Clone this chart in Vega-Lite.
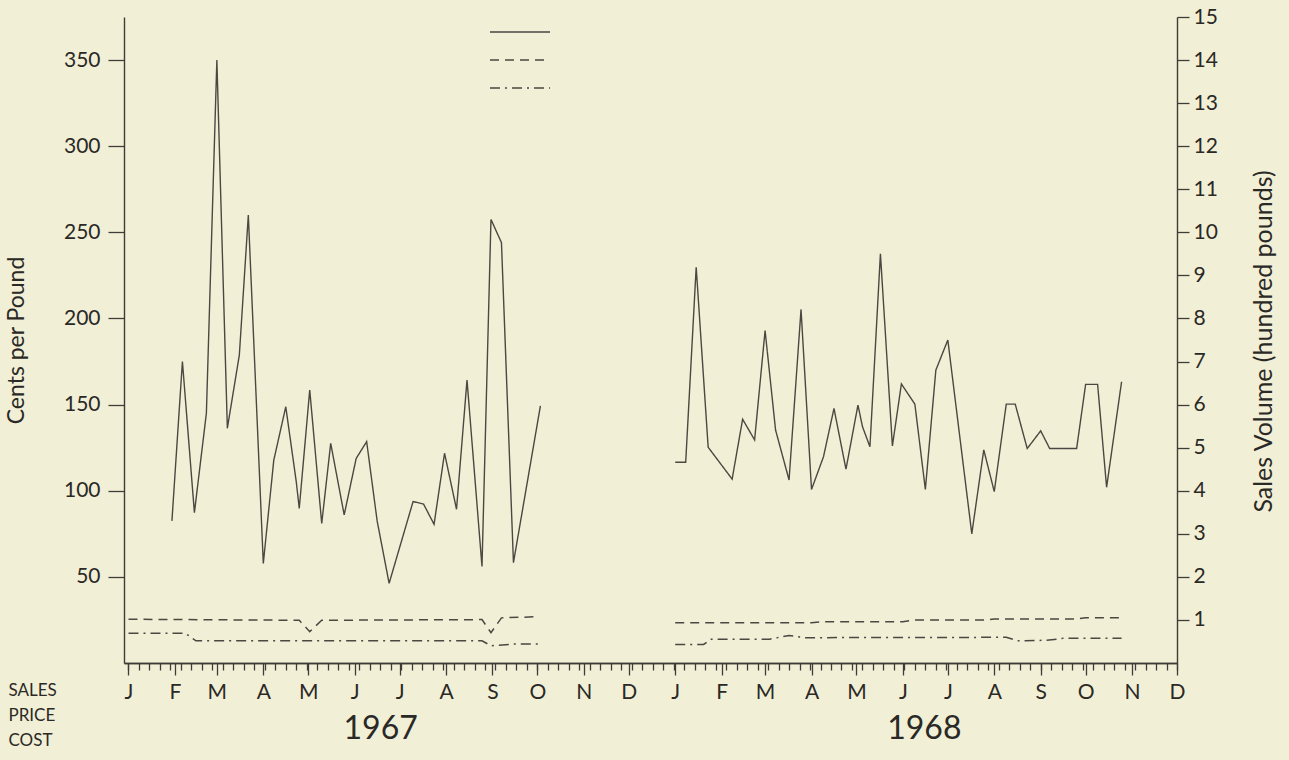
{
  "$schema": "https://vega.github.io/schema/vega-lite/v6.json",
  "autosize": {"type": "none"},
  "padding": {"left": 124, "top": 17, "right": 112, "bottom": 97},
  "width": 1053,
  "height": 646,
  "background": "#f2efd7",
  "datasets": {
    "sales": [
      {"week": "1967-01-30", "volume": 3.30},
      {"week": "1967-02-06", "volume": 7.00},
      {"week": "1967-02-14", "volume": 3.49},
      {"week": "1967-02-22", "volume": 5.80},
      {"week": "1967-03-01", "volume": 14.0},
      {"week": "1967-03-08", "volume": 5.45},
      {"week": "1967-03-16", "volume": 7.15},
      {"week": "1967-03-22", "volume": 10.4},
      {"week": "1967-04-01", "volume": 2.31},
      {"week": "1967-04-08", "volume": 4.71},
      {"week": "1967-04-16", "volume": 5.95},
      {"week": "1967-04-23", "volume": 4.21},
      {"week": "1967-04-25", "volume": 3.59},
      {"week": "1967-05-02", "volume": 6.34},
      {"week": "1967-05-10", "volume": 3.24},
      {"week": "1967-05-16", "volume": 5.10},
      {"week": "1967-05-25", "volume": 3.44},
      {"week": "1967-06-02", "volume": 4.75},
      {"week": "1967-06-09", "volume": 5.14},
      {"week": "1967-06-16", "volume": 3.30},
      {"week": "1967-06-24", "volume": 1.85},
      {"week": "1967-07-10", "volume": 3.75},
      {"week": "1967-07-17", "volume": 3.69},
      {"week": "1967-07-24", "volume": 3.22},
      {"week": "1967-07-31", "volume": 4.87},
      {"week": "1967-08-08", "volume": 3.57},
      {"week": "1967-08-15", "volume": 6.57},
      {"week": "1967-08-25", "volume": 2.24},
      {"week": "1967-08-31", "volume": 10.3},
      {"week": "1967-09-07", "volume": 9.76},
      {"week": "1967-09-15", "volume": 2.33},
      {"week": "1967-10-03", "volume": 5.97},
      {"week": "1968-01-01", "volume": 4.66},
      {"week": "1968-01-08", "volume": 4.66},
      {"week": "1968-01-15", "volume": 9.19},
      {"week": "1968-01-23", "volume": 5.01},
      {"week": "1968-02-08", "volume": 4.27},
      {"week": "1968-02-15", "volume": 5.66},
      {"week": "1968-02-23", "volume": 5.18},
      {"week": "1968-03-01", "volume": 7.72},
      {"week": "1968-03-08", "volume": 5.41},
      {"week": "1968-03-17", "volume": 4.25},
      {"week": "1968-03-25", "volume": 8.21},
      {"week": "1968-04-01", "volume": 4.03},
      {"week": "1968-04-09", "volume": 4.79},
      {"week": "1968-04-16", "volume": 5.91},
      {"week": "1968-04-24", "volume": 4.50},
      {"week": "1968-05-02", "volume": 5.99},
      {"week": "1968-05-05", "volume": 5.49},
      {"week": "1968-05-10", "volume": 5.02},
      {"week": "1968-05-17", "volume": 9.50},
      {"week": "1968-05-25", "volume": 5.04},
      {"week": "1968-05-31", "volume": 6.48},
      {"week": "1968-06-09", "volume": 6.01},
      {"week": "1968-06-16", "volume": 4.03},
      {"week": "1968-06-23", "volume": 6.80},
      {"week": "1968-07-01", "volume": 7.50},
      {"week": "1968-07-17", "volume": 3.00},
      {"week": "1968-07-25", "volume": 4.95},
      {"week": "1968-08-01", "volume": 3.98},
      {"week": "1968-08-09", "volume": 6.01},
      {"week": "1968-08-15", "volume": 6.01},
      {"week": "1968-08-23", "volume": 4.98},
      {"week": "1968-09-01", "volume": 5.39},
      {"week": "1968-09-07", "volume": 4.98},
      {"week": "1968-09-25", "volume": 4.98},
      {"week": "1968-10-01", "volume": 6.47},
      {"week": "1968-10-09", "volume": 6.47},
      {"week": "1968-10-15", "volume": 4.08},
      {"week": "1968-10-25", "volume": 6.53}
    ],
    "price": [
      {"date": "1967-01-01", "cents": 25.4},
      {"date": "1967-04-25", "cents": 24.8},
      {"date": "1967-05-02", "cents": 18.2},
      {"date": "1967-05-10", "cents": 24.8},
      {"date": "1967-08-25", "cents": 25.2},
      {"date": "1967-08-31", "cents": 17.6},
      {"date": "1967-09-07", "cents": 26.2},
      {"date": "1967-10-02", "cents": 26.9},
      {"date": "1968-01-01", "cents": 23.4},
      {"date": "1968-04-01", "cents": 23.4},
      {"date": "1968-04-08", "cents": 24.0},
      {"date": "1968-06-01", "cents": 24.0},
      {"date": "1968-06-09", "cents": 25.0},
      {"date": "1968-07-25", "cents": 25.0},
      {"date": "1968-08-01", "cents": 25.5},
      {"date": "1968-09-25", "cents": 25.5},
      {"date": "1968-10-01", "cents": 26.3},
      {"date": "1968-10-27", "cents": 26.3}
    ],
    "cost": [
      {"date": "1967-01-01", "cents": 17.2},
      {"date": "1967-02-08", "cents": 17.2},
      {"date": "1967-02-15", "cents": 12.9},
      {"date": "1967-08-25", "cents": 12.9},
      {"date": "1967-08-31", "cents": 10.0},
      {"date": "1967-09-15", "cents": 11.0},
      {"date": "1967-10-02", "cents": 11.0},
      {"date": "1968-01-01", "cents": 10.8},
      {"date": "1968-01-20", "cents": 10.8},
      {"date": "1968-01-25", "cents": 13.8},
      {"date": "1968-03-04", "cents": 13.8},
      {"date": "1968-03-17", "cents": 16.0},
      {"date": "1968-03-27", "cents": 14.7},
      {"date": "1968-08-09", "cents": 14.9},
      {"date": "1968-08-17", "cents": 12.9},
      {"date": "1968-09-05", "cents": 13.2},
      {"date": "1968-09-16", "cents": 14.3},
      {"date": "1968-10-25", "cents": 14.3}
    ]
  },
  "layer": [
    {
      "data": {"name": "sales"},
      "mark": {"type": "line", "color": "#4a4841", "strokeWidth": 1.4},
      "encoding": {
        "x": {
          "field": "week",
          "type": "temporal",
          "scale": {
            "type": "utc",
            "domain": [
              {"year": 1966, "month": 12, "date": 29, "utc": true},
              {"year": 1968, "month": 12, "date": 1, "utc": true}
            ]
          },
          "axis": {
            "orient": "bottom",
            "tickCount": {"interval": "month", "step": 1},
            "labelExpr": "slice(utcFormat(datum.value, '%b'), 0, 1)",
            "labelOverlap": false,
            "labelFlush": false,
            "labelBound": false,
            "tickSize": 12,
            "labelPadding": 6,
            "labelFontSize": 21,
            "title": ["SALES", "PRICE", "COST"],
            "titleX": -116,
            "titleY": 19,
            "titleAlign": "left",
            "titleAnchor": "start",
            "titleBaseline": "top",
            "titleAngle": 0,
            "titleFontSize": 17,
            "titleLineHeight": 25,
            "titleFontWeight": "normal"
          }
        },
        "y": {
          "field": "volume",
          "type": "quantitative",
          "scale": {"domain": [0, 15], "nice": false, "zero": true},
          "axis": {
            "orient": "right",
            "values": [1, 2, 3, 4, 5, 6, 7, 8, 9, 10, 11, 12, 13, 14, 15],
            "tickSize": 12,
            "labelPadding": 4,
            "labelFontSize": 21,
            "title": "Sales Volume (hundred pounds)",
            "titleAngle": 270,
            "titleX": 86,
            "titleY": 324,
            "titleAlign": "center",
            "titleBaseline": "middle",
            "titleFontSize": 25,
            "titleFontWeight": "normal"
          }
        },
        "detail": {"field": "week", "timeUnit": "utcyear", "type": "ordinal"},
        "strokeDash": {
          "datum": "SALES",
          "type": "nominal",
          "scale": {
            "domain": ["SALES", "PRICE", "COST"],
            "range": [[1, 0], [9, 6], [10, 5, 2, 5]]
          },
          "legend": {
            "orient": "none",
            "legendX": 385,
            "legendY": 4,
            "title": null,
            "labelExpr": "''",
            "symbolType": "M -3 0 H 3",
            "symbolSize": 400,
            "symbolStrokeWidth": 1.5,
            "symbolStrokeColor": "#4a4841",
            "symbolFillColor": "transparent",
            "rowPadding": 12,
            "padding": 0
          }
        }
      }
    },
    {
      "data": {"name": "price"},
      "mark": {"type": "line", "color": "#4a4841", "strokeWidth": 1.5},
      "encoding": {
        "x": {
          "field": "date",
          "type": "temporal",
          "axis": {
            "orient": "bottom",
            "tickCount": {"interval": "week", "step": 1},
            "labels": false,
            "tickSize": 7,
            "title": null
          }
        },
        "y": {
          "field": "cents",
          "type": "quantitative",
          "scale": {"domain": [0, 375], "nice": false, "zero": true},
          "axis": {
            "orient": "left",
            "values": [50, 100, 150, 200, 250, 300, 350],
            "tickSize": 16,
            "labelPadding": 8,
            "labelFontSize": 21,
            "title": "Cents per Pound",
            "titleAngle": 270,
            "titleX": -108,
            "titleY": 323,
            "titleAlign": "center",
            "titleBaseline": "middle",
            "titleFontSize": 23,
            "titleFontWeight": "normal"
          }
        },
        "detail": {"field": "date", "timeUnit": "utcyear", "type": "ordinal"},
        "strokeDash": {"datum": "PRICE", "type": "nominal"}
      }
    },
    {
      "data": {"name": "cost"},
      "mark": {"type": "line", "color": "#4a4841", "strokeWidth": 1.5},
      "encoding": {
        "x": {
          "field": "date",
          "type": "temporal",
          "axis": {
            "orient": "bottom",
            "values": [
              {"year": 1967, "month": 6, "date": 18, "utc": true},
              {"year": 1968, "month": 6, "date": 15, "utc": true}
            ],
            "labelExpr": "utcFormat(datum.value, '%Y')",
            "ticks": false,
            "tickSize": 0,
            "domain": false,
            "labelPadding": 50,
            "labelFontSize": 32,
            "labelOverlap": false,
            "labelFlush": false,
            "title": null
          }
        },
        "y": {
          "field": "cents",
          "type": "quantitative",
          "scale": {"domain": [0, 375], "nice": false, "zero": true},
          "axis": null
        },
        "detail": {"field": "date", "timeUnit": "utcyear", "type": "ordinal"},
        "strokeDash": {"datum": "COST", "type": "nominal"}
      }
    }
  ],
  "resolve": {
    "scale": {"y": "independent"},
    "axis": {"x": "independent", "y": "independent"}
  },
  "config": {
    "font": "Lato",
    "view": {"stroke": null},
    "axis": {
      "grid": false,
      "domainColor": "#3d3c36",
      "domainWidth": 1.4,
      "tickColor": "#3d3c36",
      "tickWidth": 1.3,
      "labelColor": "#2a2925",
      "titleColor": "#2a2925",
      "labelFont": "Lato",
      "titleFont": "Lato"
    }
  }
}
